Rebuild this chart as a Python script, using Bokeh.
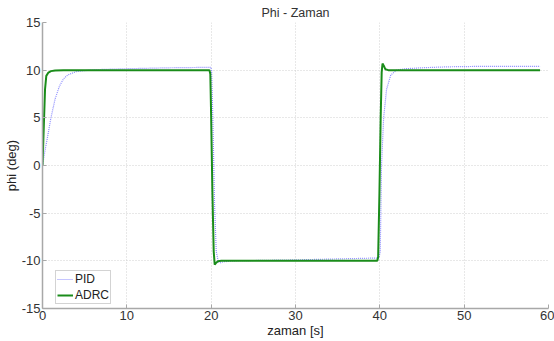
from bokeh.plotting import figure
from bokeh.models import Legend, LegendItem, Range1d, FixedTicker, Title
from bokeh.embed import file_html
from bokeh.resources import INLINE

# ---- data ----
adrc_t = [0, 0.15, 0.3, 0.45, 0.7, 1.0, 1.5, 2.5, 19.8, 19.9, 20.0, 20.15, 20.3, 20.42, 20.6, 20.8, 21.2, 22,
          39.7, 39.8, 39.95, 40.1, 40.22, 40.32, 40.45, 40.65, 41.0, 41.5, 59]
adrc_v = [0, 4.0, 8.0, 9.4, 9.75, 9.9, 9.97, 10.0, 10.0, 9.6, 5.0, -3.0, -9.0, -10.4, -10.2, -10.05, -10.0, -10.0,
          -10.0, -9.6, -3.0, 5.0, 9.8, 10.7, 10.5, 10.1, 10.0, 10.0, 10.0]

pid_t = [0, 0.3, 0.6, 1.0, 1.5, 2.0, 2.5, 3.0, 4.0, 6.0, 10.0, 15.0, 19.95, 20.05, 20.2, 20.4, 20.6, 20.85, 21.1, 21.5, 22.5,
         30.0, 35.0, 39.9, 40.05, 40.2, 40.45, 40.8, 41.3, 42.0, 43.0, 45.0, 48.0, 52.0, 59]
pid_v = [0, 1.6, 3.0, 5.0, 7.0, 8.3, 9.1, 9.5, 9.85, 10.05, 10.15, 10.25, 10.3, 10.0, 5.0, -4.0, -9.0, -10.1, -10.2, -10.1, -10.0,
         -9.9, -9.8, -9.7, -9.0, 0.0, 5.0, 8.0, 9.5, 10.0, 10.15, 10.25, 10.35, 10.4, 10.4]

x_ticks = [0, 10, 20, 30, 40, 50, 60]
y_ticks = [-15, -10, -5, 0, 5, 10, 15]

p = figure(width=554, height=341, output_backend="svg", toolbar_location=None,
           x_range=Range1d(0, 60), y_range=Range1d(-15, 15))
p.min_border_left = 42
p.min_border_right = 6
p.min_border_top = 0
p.min_border_bottom = 33
p.outline_line_color = None
p.background_fill_color = "white"

p.add_layout(Title(text="Phi - Zaman", align="center", text_font="Liberation Sans",
                   text_font_size="12.5px", text_font_style="normal", text_color="#333333",
                   standoff=6, offset=0), "above")

for ax in (p.xaxis[0], p.yaxis[0]):
    ax.axis_line_color = "#a8a8a8"
    ax.axis_line_width = 1.5
    ax.major_tick_in = 4
    ax.major_tick_out = 0
    ax.major_tick_line_color = "#a8a8a8"
    ax.minor_tick_line_color = None
    ax.major_label_text_font = "Liberation Sans"
    ax.major_label_text_font_size = "13px"
    ax.major_label_text_color = "#333333"
    ax.axis_label_text_font = "Liberation Sans"
    ax.axis_label_text_font_size = "13px"
    ax.axis_label_text_font_style = "normal"
    ax.axis_label_text_color = "#222222"
    ax.major_label_standoff = 2
    ax.axis_label_standoff = 0

p.xaxis.ticker = FixedTicker(ticks=x_ticks)
p.yaxis.ticker = FixedTicker(ticks=y_ticks)
p.xaxis.major_label_overrides = {t: str(t) for t in x_ticks}
p.yaxis.major_label_overrides = {t: str(t) for t in y_ticks}
p.xaxis.axis_label = "zaman [s]"
p.yaxis.axis_label = "phi (deg)"

p.grid.grid_line_color = "#d0d0d0"
p.grid.grid_line_dash = "1 2"
p.grid.grid_line_width = 1

r_pid = p.line(pid_t, pid_v, line_color="#8c8cff", line_width=1.2, line_dash="1 1")
r_adrc = p.line(adrc_t, adrc_v, line_color="#1a8c1a", line_width=2)

legend = Legend(items=[LegendItem(label="PID", renderers=[r_pid]),
                       LegendItem(label="ADRC", renderers=[r_adrc])],
                location=(13, 4))
legend.label_text_font = "Liberation Sans"
legend.label_text_font_size = "12px"
legend.label_text_color = "#222222"
legend.border_line_color = "#a8a8a8"
legend.border_line_width = 1
legend.glyph_width = 16
legend.glyph_height = 12
legend.label_height = 12
legend.spacing = 2
legend.padding = 1
legend.margin = 0
legend.label_standoff = 2
legend.background_fill_alpha = 1
p.add_layout(legend)

open("out.html", "w").write(file_html(p, INLINE))
